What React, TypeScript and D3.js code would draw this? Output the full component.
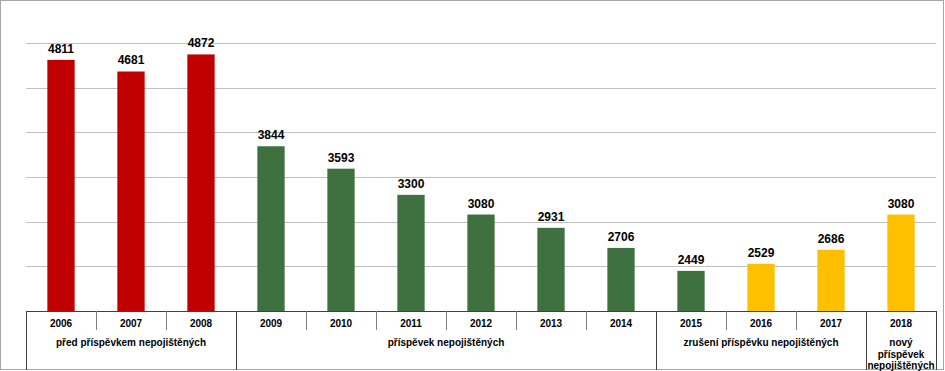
import * as d3 from 'd3'
import React, { useEffect, useRef } from 'react'

const years = ['2006', '2007', '2008', '2009', '2010', '2011', '2012', '2013', '2014', '2015', '2016', '2017', '2018']
const values = [4811, 4681, 4872, 3844, 3593, 3300, 3080, 2931, 2706, 2449, 2529, 2686, 3080]
const barColors = ['#c00000', '#c00000', '#c00000', '#3f7040', '#3f7040', '#3f7040', '#3f7040', '#3f7040', '#3f7040', '#3f7040', '#ffc000', '#ffc000', '#ffc000']
// groups: first index, last index, label lines
const groupStarts = [0, 3, 9, 12]
const groupEnds = [2, 8, 11, 12]
const groupLabels = [
  ['před příspěvkem nepojištěných'],
  ['příspěvek nepojištěných'],
  ['zrušení příspěvku nepojištěných'],
  ['nový', 'příspěvek', 'nepojištěných'],
]

const width = 945
const height = 371

export default function App() {
  const ref = useRef<SVGSVGElement>(null)

  useEffect(() => {
    const svg = d3.select(ref.current)
    svg.selectAll('*').remove()

    const left = 26
    const right = 936
    const base = 311

    const x = d3.scaleBand<string>()
      .domain(years)
      .range([left, right])
      .paddingInner(0.61)
      .paddingOuter(0.305)
    const step = x.step()
    const slotLeft = (i: number) => left + i * step

    const y = d3.scaleLinear().domain([2000, 5000]).range([base, 43])

    // chart border
    svg.append('rect')
      .attr('x', 0.5).attr('y', 0.5)
      .attr('width', 943).attr('height', 369)
      .attr('fill', '#fff')
      .attr('stroke', '#a6a6a6')

    // gridlines
    svg.append('g')
      .selectAll('line')
      .data(y.ticks(6).filter(d => d > 2000))
      .enter().append('line')
      .attr('x1', left).attr('x2', right)
      .attr('y1', d => Math.round(y(d)) + 0.5)
      .attr('y2', d => Math.round(y(d)) + 0.5)
      .style('stroke', '#c0c0c0')
      .style('stroke-width', '1px')

    // bars
    svg.append('g')
      .selectAll('rect')
      .data(values)
      .enter().append('rect')
      .attr('x', (d, i) => x(years[i])!)
      .attr('width', x.bandwidth())
      .attr('y', d => y(d))
      .attr('height', d => base - y(d))
      .attr('fill', (d, i) => barColors[i])

    // value labels
    svg.append('g')
      .selectAll('text')
      .data(values)
      .enter().append('text')
      .attr('x', (d, i) => x(years[i])! + x.bandwidth() / 2)
      .attr('y', d => Math.max(46, y(d) - 7))
      .attr('text-anchor', 'middle')
      .style('font-family', 'Liberation Sans, Arial, sans-serif')
      .style('font-weight', 'bold')
      .style('font-size', '12px')
      .style('fill', '#000')
      .text(d => d)

    // baseline
    svg.append('line')
      .attr('x1', left).attr('x2', right)
      .attr('y1', base + 0.5).attr('y2', base + 0.5)
      .style('stroke', '#404040')

    // year separators (short) and group separators (full height)
    const isGroupEdge = (i: number) => groupStarts.includes(i) || i === years.length
    svg.append('g')
      .selectAll('line')
      .data(d3.range(years.length + 1))
      .enter().append('line')
      .attr('x1', i => Math.round(slotLeft(i)) + 0.5)
      .attr('x2', i => Math.round(slotLeft(i)) + 0.5)
      .attr('y1', base)
      .attr('y2', i => isGroupEdge(i) ? 370 : 330)
      .style('stroke', i => isGroupEdge(i) ? '#404040' : '#808080')

    // year labels
    svg.append('g')
      .selectAll('text')
      .data(years)
      .enter().append('text')
      .attr('x', d => x(d)! + x.bandwidth() / 2)
      .attr('y', 327)
      .attr('text-anchor', 'middle')
      .style('font-family', 'Liberation Sans, Arial, sans-serif')
      .style('font-weight', 'bold')
      .style('font-size', '10px')
      .text(d => d)

    // group labels
    groupLabels.forEach((lines, g) => {
      const cx = (slotLeft(groupStarts[g]) + slotLeft(groupEnds[g] + 1)) / 2
      const t = svg.append('text')
        .attr('text-anchor', 'middle')
        .style('font-family', 'Liberation Sans, Arial, sans-serif')
        .style('font-weight', 'bold')
        .style('font-size', '10px')
      lines.forEach((line, k) => {
        t.append('tspan')
          .attr('x', cx)
          .attr('y', 346 + k * 11.5)
          .text(line)
      })
    })
  }, [])

  return (
    <div style={{ position: 'absolute', left: 0, top: 0 }}>
      <svg ref={ref} width={width} height={height} style={{ display: 'block' }} />
    </div>
  )
}
